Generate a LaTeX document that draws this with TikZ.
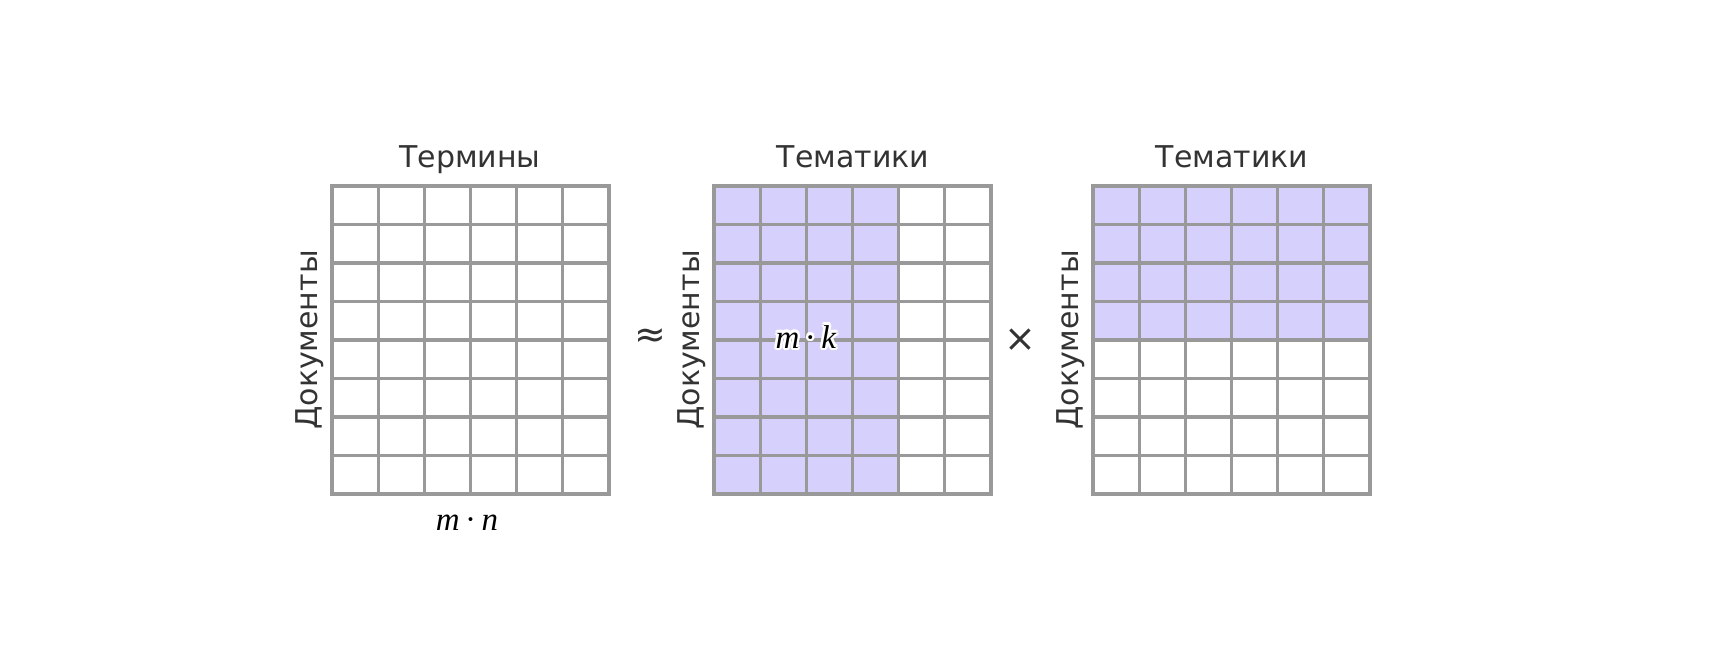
\documentclass[tikz,border=0pt]{standalone}
\usepackage{fontspec}
\setmainfont{DejaVu Sans}
\newfontfamily\mathser{Liberation Serif}
\usetikzlibrary{calc}
\definecolor{gridgray}{HTML}{999999}
\definecolor{lav}{RGB}{214,208,252}
\definecolor{ink}{HTML}{333333}
\begin{document}
\begin{tikzpicture}[x=1pt,y=-1pt,
  gridline/.style={draw=gridgray,line width=3.3pt},
  title/.style={font=\fontsize{30}{36}\selectfont,text=ink,anchor=base,inner sep=0pt},
  side/.style={font=\fontsize{30}{36}\selectfont,text=ink,anchor=base,rotate=90,inner sep=0pt},
  op/.style={font=\fontsize{38}{44}\selectfont,text=ink,inner sep=0pt},
  mathlbl/.style={font=\fontsize{33}{38}\mathser\selectfont,anchor=base,inner sep=0pt},
]
\useasboundingbox (0,0) rectangle (1724,670);
\def\gy{186}\def\gh{308}\def\gw{277}
% fills
\fill[lav] (714,186) rectangle ({714+4*\gw/6},494);
\fill[lav] (1093,186) rectangle (1370,{186+4*\gh/8});
% grids
\foreach \gx in {332,714,1093}{
  \foreach \i in {1,...,5}
    \draw[gridline] ({\gx+\i*\gw/6},\gy) -- ({\gx+\i*\gw/6},{\gy+\gh});
  \foreach \j in {1,...,7}
    \draw[gridline] (\gx,{\gy+\j*\gh/8}) -- ({\gx+\gw},{\gy+\j*\gh/8});
  \draw[gridline] (\gx,\gy) rectangle ({\gx+\gw},{\gy+\gh});
}
% titles
\node[title] (t1) at (470,167) {Термины};
\node[title] (t2) at (853,167) {Тематики};
\node[title] (t3) at (1232,167) {Тематики};
% side labels
\node[side] (s1) at (317,340) {Документы};
\node[side] (s2) at (699,340) {Документы};
\node[side] (s3) at (1078,340) {Документы};
% operators
\node[op] (approx) at (650,338) {≈};
\node[op] (times) at (1020,340) {×};
% math labels
\node[mathlbl] (mn) at (467,530) {\textit{m}\,·\,\textit{n}};
\foreach \a [count=\k] in {0,30,...,330}
  \node[mathlbl,text=white] (mkh\k) at ($(806,348)+(\a:2.4)$) {\textit{m}\,·\,\textit{k}};
\node[mathlbl,text=black] (mk) at (806,348) {\textit{m}\,·\,\textit{k}};
\end{tikzpicture}
\end{document}
